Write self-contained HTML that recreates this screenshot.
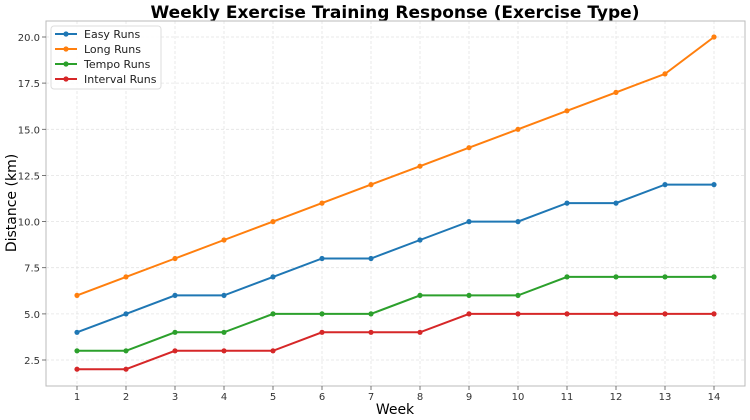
<!DOCTYPE html>
<html><head><meta charset="utf-8"><style>body{margin:0;background:#fff}svg{display:block;font-family:"DejaVu Sans","Liberation Sans",sans-serif}</style></head><body>
<svg width="750" height="420" viewBox="0 0 750 420">
<defs>
<marker id="mb" markerWidth="6" markerHeight="6" refX="3" refY="3" markerUnits="userSpaceOnUse"><circle cx="3" cy="3" r="2.6" fill="#1f77b4"/></marker>
<marker id="mo" markerWidth="6" markerHeight="6" refX="3" refY="3" markerUnits="userSpaceOnUse"><circle cx="3" cy="3" r="2.6" fill="#ff7f0e"/></marker>
<marker id="mg" markerWidth="6" markerHeight="6" refX="3" refY="3" markerUnits="userSpaceOnUse"><circle cx="3" cy="3" r="2.6" fill="#2ca02c"/></marker>
<marker id="mr" markerWidth="6" markerHeight="6" refX="3" refY="3" markerUnits="userSpaceOnUse"><circle cx="3" cy="3" r="2.6" fill="#d62728"/></marker>
</defs>
<text x="395" y="18" text-anchor="middle" font-size="17" font-weight="bold">Weekly Exercise Training Response (Exercise Type)</text>
<g stroke="#e4e4e4" stroke-width="0.8" stroke-dasharray="3,2">
<line x1="77" y1="21" x2="77" y2="386"/><line x1="126" y1="21" x2="126" y2="386"/><line x1="175" y1="21" x2="175" y2="386"/><line x1="224" y1="21" x2="224" y2="386"/><line x1="273" y1="21" x2="273" y2="386"/><line x1="322" y1="21" x2="322" y2="386"/><line x1="371" y1="21" x2="371" y2="386"/><line x1="420" y1="21" x2="420" y2="386"/><line x1="469" y1="21" x2="469" y2="386"/><line x1="518" y1="21" x2="518" y2="386"/><line x1="567" y1="21" x2="567" y2="386"/><line x1="616" y1="21" x2="616" y2="386"/><line x1="665" y1="21" x2="665" y2="386"/><line x1="714" y1="21" x2="714" y2="386"/>
<line x1="46" y1="360" x2="745" y2="360"/><line x1="46" y1="313.9" x2="745" y2="313.9"/><line x1="46" y1="267.7" x2="745" y2="267.7"/><line x1="46" y1="221.6" x2="745" y2="221.6"/><line x1="46" y1="175.4" x2="745" y2="175.4"/><line x1="46" y1="129.3" x2="745" y2="129.3"/><line x1="46" y1="83.1" x2="745" y2="83.1"/><line x1="46" y1="37" x2="745" y2="37"/>
</g>
<rect x="46" y="21" width="699" height="365" fill="none" stroke="#bbb" stroke-width="1"/>
<g stroke="#555" stroke-width="0.8">
<line x1="42" y1="360" x2="46" y2="360"/><line x1="42" y1="313.9" x2="46" y2="313.9"/><line x1="42" y1="267.7" x2="46" y2="267.7"/><line x1="42" y1="221.6" x2="46" y2="221.6"/><line x1="42" y1="175.4" x2="46" y2="175.4"/><line x1="42" y1="129.3" x2="46" y2="129.3"/><line x1="42" y1="83.1" x2="46" y2="83.1"/><line x1="42" y1="37" x2="46" y2="37"/>
<line x1="77" y1="386" x2="77" y2="390"/><line x1="126" y1="386" x2="126" y2="390"/><line x1="175" y1="386" x2="175" y2="390"/><line x1="224" y1="386" x2="224" y2="390"/><line x1="273" y1="386" x2="273" y2="390"/><line x1="322" y1="386" x2="322" y2="390"/><line x1="371" y1="386" x2="371" y2="390"/><line x1="420" y1="386" x2="420" y2="390"/><line x1="469" y1="386" x2="469" y2="390"/><line x1="518" y1="386" x2="518" y2="390"/><line x1="567" y1="386" x2="567" y2="390"/><line x1="616" y1="386" x2="616" y2="390"/><line x1="665" y1="386" x2="665" y2="390"/><line x1="714" y1="386" x2="714" y2="390"/>
</g>
<g font-size="10" fill="#333" text-anchor="end">
<text x="40" y="364">2.5</text><text x="40" y="318">5.0</text><text x="40" y="271.7">7.5</text><text x="40" y="225.6">10.0</text><text x="40" y="179.4">12.5</text><text x="40" y="133.3">15.0</text><text x="40" y="87.1">17.5</text><text x="40" y="41">20.0</text>
</g>
<g font-size="10" fill="#333" text-anchor="middle">
<text x="77" y="400">1</text><text x="126" y="400">2</text><text x="175" y="400">3</text><text x="224" y="400">4</text><text x="273" y="400">5</text><text x="322" y="400">6</text><text x="371" y="400">7</text><text x="420" y="400">8</text><text x="469" y="400">9</text><text x="518" y="400">10</text><text x="567" y="400">11</text><text x="616" y="400">12</text><text x="665" y="400">13</text><text x="714" y="400">14</text>
</g>
<text x="395" y="414" text-anchor="middle" font-size="14">Week</text>
<text x="16" y="203" text-anchor="middle" font-size="14" transform="rotate(-90 16 203)">Distance (km)</text>
<g fill="none" stroke-width="2">
<polyline stroke="#ff7f0e" marker-start="url(#mo)" marker-mid="url(#mo)" marker-end="url(#mo)" points="77,295.4 126,276.9 175,258.5 224,240 273,221.6 322,203.1 371,184.6 420,166.2 469,147.7 518,129.3 567,110.8 616,92.4 665,73.9 714,37"/>
<polyline stroke="#1f77b4" marker-start="url(#mb)" marker-mid="url(#mb)" marker-end="url(#mb)" points="77,332.3 126,313.9 175,295.4 224,295.4 273,276.9 322,258.5 371,258.5 420,240 469,221.6 518,221.6 567,203.1 616,203.1 665,184.6 714,184.6"/>
<polyline stroke="#2ca02c" marker-start="url(#mg)" marker-mid="url(#mg)" marker-end="url(#mg)" points="77,350.8 126,350.8 175,332.3 224,332.3 273,313.9 322,313.9 371,313.9 420,295.4 469,295.4 518,295.4 567,276.9 616,276.9 665,276.9 714,276.9"/>
<polyline stroke="#d62728" marker-start="url(#mr)" marker-mid="url(#mr)" marker-end="url(#mr)" points="77,369.2 126,369.2 175,350.8 224,350.8 273,350.8 322,332.3 371,332.3 420,332.3 469,313.9 518,313.9 567,313.9 616,313.9 665,313.9 714,313.9"/>
</g>
<rect x="51" y="26" width="110" height="63" rx="3" fill="#fff" fill-opacity="0.85" stroke="#ddd"/>
<g stroke-width="2" font-size="11">
<line x1="55" y1="34" x2="77" y2="34" stroke="#1f77b4"/><circle cx="66" cy="34" r="2.6" fill="#1f77b4"/><text x="84" y="38" fill="#222" stroke="none">Easy Runs</text>
<line x1="55" y1="49" x2="77" y2="49" stroke="#ff7f0e"/><circle cx="66" cy="49" r="2.6" fill="#ff7f0e"/><text x="84" y="53" fill="#222" stroke="none">Long Runs</text>
<line x1="55" y1="64" x2="77" y2="64" stroke="#2ca02c"/><circle cx="66" cy="64" r="2.6" fill="#2ca02c"/><text x="84" y="68" fill="#222" stroke="none">Tempo Runs</text>
<line x1="55" y1="79" x2="77" y2="79" stroke="#d62728"/><circle cx="66" cy="79" r="2.6" fill="#d62728"/><text x="84" y="83" fill="#222" stroke="none">Interval Runs</text>
</g>
</svg>
</body></html>
